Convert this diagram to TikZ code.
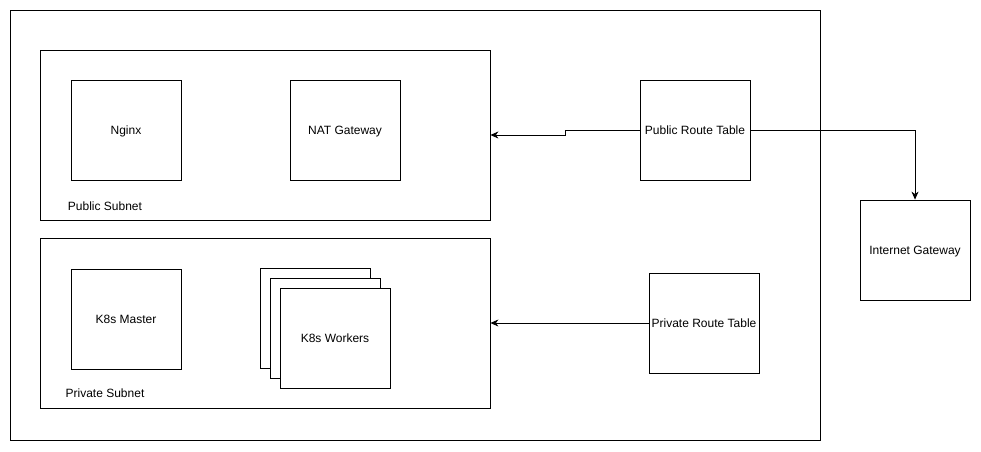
\documentclass[tikz,border=0pt]{standalone}
\usepackage{fontspec}
\setmainfont{Liberation Sans}
\usetikzlibrary{arrows.meta}
\tikzset{
  box/.style={draw, line width=0.8pt, fill=white, minimum width=110pt, minimum height=100pt, inner sep=0pt, text height=11pt, text depth=2.6pt, font=\fontsize{12}{14}\selectfont},
  area/.style={draw, line width=0.8pt, inner sep=0pt},
  lbl/.style={font=\fontsize{12}{14}\selectfont, inner sep=0pt, text height=11pt, text depth=2.6pt},
  conn/.style={draw, line width=0.8pt, -{Stealth[length=8pt,width=7pt,inset=2.5pt]}}
}
\begin{document}
\begin{tikzpicture}[x=1pt,y=-1pt]
\useasboundingbox (0,0) rectangle (981,451);
\node[area, minimum width=810pt, minimum height=430pt] (vpc) at (415,225) {};
\node[area, minimum width=450pt, minimum height=170pt] (pub) at (265,135) {};
\node[area, minimum width=450pt, minimum height=170pt] (priv) at (265,323) {};
\node[lbl] (publbl) at (105,206) {Public Subnet};
\node[lbl] (privlbl) at (105,393) {Private Subnet};
\node[box] (nginx) at (126,130) {Nginx};
\node[box] (nat) at (345,130) {NAT Gateway};
\node[box] (master) at (126,319) {K8s Master};
\node[box] (w1) at (315,318) {};
\node[box] (w2) at (325,328) {};
\node[box] (w3) at (335,338) {K8s Workers};
\node[box] (prt) at (695,130) {Public Route Table};
\node[box] (pvrt) at (704,323) {Private Route Table};
\node[box] (igw) at (915,250) {Internet Gateway};
\coordinate (jog) at (565,130);
\draw[conn] (prt.west) -- (jog) -- (jog |- pub.east) -- (pub.east);
\draw[conn] (prt.east) -| (igw.north);
\draw[conn] (pvrt.west) -- (priv.east);
\end{tikzpicture}
\end{document}
